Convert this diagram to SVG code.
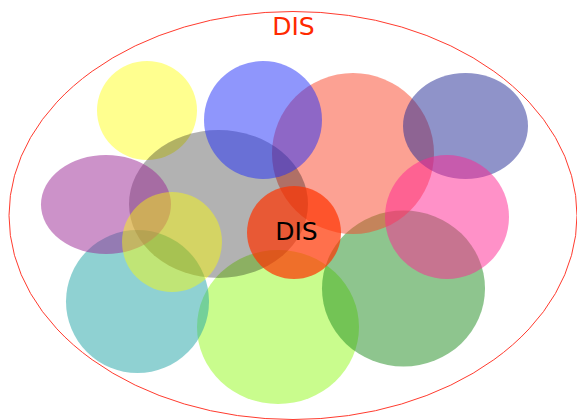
<svg xmlns="http://www.w3.org/2000/svg" width="577" height="420" viewBox="0 0 577 420">
<style>
.lbl{font-family:"DejaVu Sans","Liberation Sans",sans-serif;font-size:25px;text-anchor:middle}
.b{fill-opacity:0.5;stroke:none}
</style>
<rect width="577" height="420" fill="#ffffff"/>
<g id="outer">
<ellipse cx="293" cy="215.5" rx="284" ry="204" fill="none" stroke="#ff3b2e" stroke-width="1"/>
<text class="lbl" x="293.5" y="35" fill="#ff2a00">DIS</text>
</g>
<g id="lime"><ellipse class="b" cx="278" cy="327" rx="81" ry="77" fill="#93f91b"/></g>
<g id="teal"><ellipse class="b" cx="137.5" cy="301.5" rx="71.5" ry="71.5" fill="#1fa3a5"/></g>
<g id="green"><ellipse class="b" cx="403.5" cy="288.5" rx="81.5" ry="78" fill="#1d8b1d"/></g>
<g id="yellow1"><ellipse cx="147" cy="110.5" rx="50" ry="49.5" fill="#ffff00" fill-opacity="0.44"/></g>
<g id="salmon"><ellipse class="b" cx="353" cy="153.5" rx="81" ry="80.5" fill="#f94327"/></g>
<g id="gray"><ellipse cx="218.5" cy="204" rx="89.5" ry="74" fill="#000000" fill-opacity="0.3"/></g>
<g id="purple"><ellipse class="b" cx="106" cy="204.5" rx="65" ry="49.5" fill="#992593"/></g>
<g id="blue"><ellipse class="b" cx="263" cy="120" rx="59" ry="59" fill="#1f2df9"/></g>
<g id="navy"><ellipse class="b" cx="465.5" cy="126" rx="62.5" ry="53" fill="#1f2793"/></g>
<g id="pink"><ellipse class="b" cx="447" cy="217" rx="62" ry="62" fill="#ff2391"/></g>
<g id="yellow2"><ellipse cx="172" cy="242" rx="50" ry="50" fill="#ffff00" fill-opacity="0.44"/></g>
<g id="center">
<ellipse cx="294" cy="232.5" rx="47" ry="46.5" fill="#ff3300" fill-opacity="0.7"/>
<text class="lbl" x="296.5" y="239.5" fill="#000000">DIS</text>
</g>
</svg>
